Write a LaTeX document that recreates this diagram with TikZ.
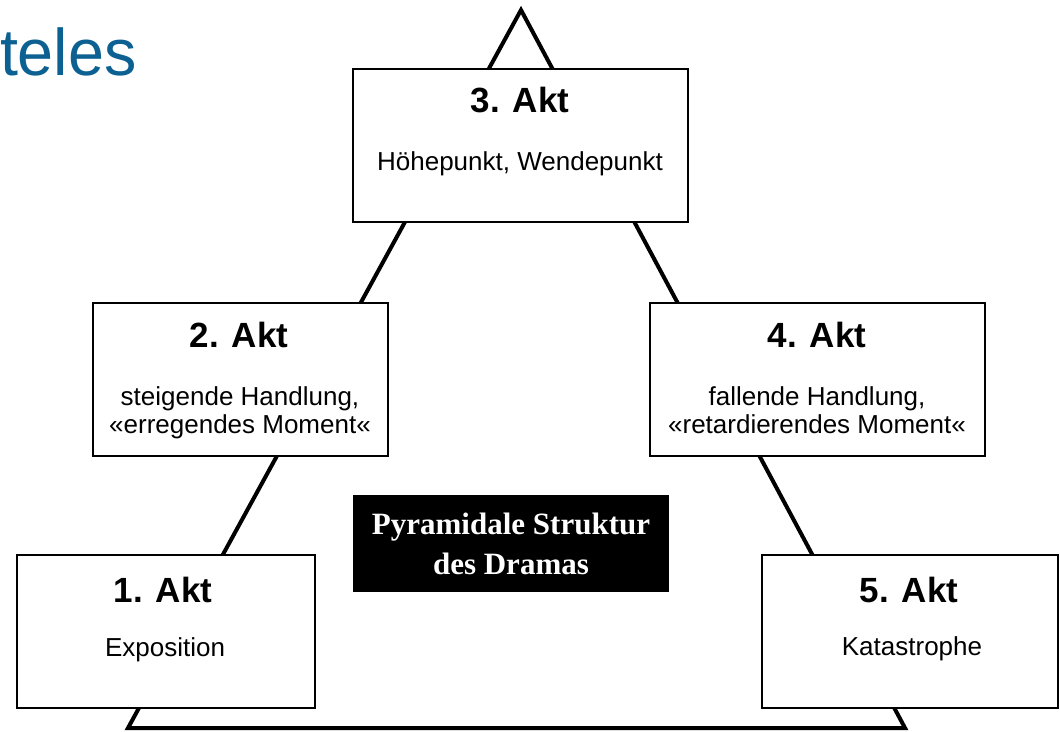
\documentclass[tikz,border=0pt]{standalone}
\usepackage{fontspec}
\setmainfont{Liberation Sans}
\newfontfamily\dramaserif{Liberation Serif}
\usepackage{xcolor}
\usetikzlibrary{positioning}
\definecolor{titelblau}{RGB}{12,96,146}

\begin{document}
\begin{tikzpicture}[x=1pt, y=-1pt,
  every node/.style={inner sep=0pt, outer sep=0pt},
  akt/.style ={draw, line width=1.6pt, fill=white, minimum height=153pt},
  ttl/.style ={anchor=base, font=\fontsize{35}{42}\selectfont\bfseries},
  txt/.style ={anchor=base, align=center, font=\fontsize{26}{28}\selectfont},
  blk/.style ={fill=black, text=white, align=center,
               minimum width=316pt, minimum height=97pt,
               font=\fontsize{31}{40}\dramaserif\bfseries},
  kante/.style={line width=4pt, line join=miter}
]
\useasboundingbox (0,0) rectangle (1060,731);

%% pyramid outline
\coordinate (spitze) at (521,10);
\coordinate (links)  at (128,728);
\coordinate (rechts) at (905,728);
\draw[kante] (links) -- (spitze) -- (rechts) -- cycle;

%% act boxes
\node[akt, minimum width=335pt] (a3) at (520.5,145.5) {};
\node[akt, minimum width=295pt] (a2) at (240.5,379.5) {};
\node[akt, minimum width=335pt] (a4) at (817.5,379.5) {};
\node[akt, minimum width=298pt] (a1) at (166,631.5)   {};
\node[akt, minimum width=296pt] (a5) at (910,631.5)   {};

%% titles
\node[ttl] (t3) at (520,112) {3. Akt};
\node[ttl] (t2) at (239,347) {2. Akt};
\node[ttl] (t4) at (817,347) {4. Akt};
\node[ttl] (t1) at (163,602) {1. Akt};
\node[ttl] (t5) at (909,602) {5. Akt};

%% descriptions (base = last line)
\node[txt] (d3) at (520,170) {Höhepunkt, Wendepunkt};
\node[txt] (d2) at (240,433) {steigende Handlung,\\«erregendes Moment«};
\node[txt] (d4) at (817,433) {fallende Handlung,\\«retardierendes Moment«};
\node[txt] (d1) at (165,656) {Exposition};
\node[txt] (d5) at (912,655) {Katastrophe};

%% centre label
\node[blk] (pyr) at (511,543.5) {Pyramidale Struktur\\des Dramas};

%% cut-off heading
\node[anchor=base west, text=titelblau,
      font=\fontsize{66}{70}\selectfont] (kopf) at (0,75)
  {\scalebox{0.98}[1]{teles}};
\end{tikzpicture}
\end{document}
